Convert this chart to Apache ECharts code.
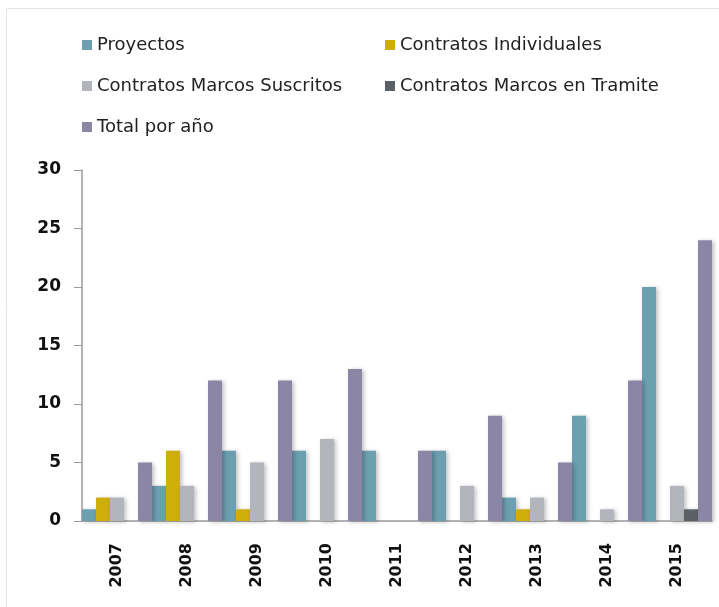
<!DOCTYPE html>
<html>
<head>
<meta charset="utf-8">
<script src="https://cdn.jsdelivr.net/npm/echarts@6/dist/echarts.min.js"></script>
<style>
  html, body { margin: 0; padding: 0; background: #fff; }
  #chart { width: 719px; height: 607px; }
</style>
</head>
<body>
<div id="chart"></div>
<script>
// datos
const years = ['2007', '2008', '2009', '2010', '2011', '2012', '2013', '2014', '2015']
const proyectos = [1, 3, 6, 6, 6, 6, 2, 9, 20]
const individuales = [2, 6, 1, 0, 0, 0, 1, 0, 0]
const suscritos = [2, 3, 5, 7, 0, 3, 2, 1, 3]
const tramite = [0, 0, 0, 0, 0, 0, 0, 0, 1]
const totalAnio = [5, 12, 12, 13, 6, 9, 5, 12, 24]

const names = ['Proyectos', 'Contratos Individuales', 'Contratos Marcos Suscritos', 'Contratos Marcos en Tramite', 'Total por año']
const colors = ['#6c9fb0', '#ceae08', '#b3b5bd', '#5b5f66', '#8b86a6']
const values = [proyectos, individuales, suscritos, tramite, totalAnio]

// posiciones de la leyenda (dos columnas)
const legendPos = [[82, 36], [385, 36], [82, 77], [385, 77], [82, 118]]

const chart = echarts.init(document.getElementById('chart'))

const option = {
  animation: false,
  backgroundColor: '#fff',
  graphic: [{
    type: 'rect',
    shape: { x: 6.5, y: 8.5, width: 740, height: 640 },
    style: { fill: 'none', stroke: '#e4e4e4', lineWidth: 1 },
    silent: true
  }],
  legend: names.map((n, i) => ({
    data: [n],
    left: legendPos[i][0],
    top: legendPos[i][1],
    padding: 0,
    icon: 'rect',
    itemWidth: 10,
    itemHeight: 10,
    itemGap: 5,
    textStyle: { fontFamily: 'DejaVu Sans', fontSize: 18, color: '#222' }
  })),
  grid: { left: 82, right: 7, top: 170, bottom: 86 },
  xAxis: {
    type: 'category',
    data: years,
    axisLine: { lineStyle: { color: '#9a9a9a', width: 1.5 } },
    axisTick: { show: false },
    axisLabel: {
      rotate: 90,
      margin: 22,
      fontFamily: 'DejaVu Sans',
      fontWeight: 'bold',
      fontSize: 16,
      color: '#111'
    }
  },
  yAxis: {
    type: 'value',
    min: 0,
    max: 30,
    interval: 5,
    axisLine: { show: true, lineStyle: { color: '#9a9a9a', width: 1.5 } },
    axisTick: { show: true, length: 8, lineStyle: { color: '#9a9a9a' } },
    splitLine: { show: false },
    axisLabel: {
      margin: 21,
      fontFamily: 'DejaVu Sans',
      fontWeight: 'bold',
      fontSize: 17,
      color: '#111'
    }
  },
  series: names.map((n, i) => ({
    name: n,
    type: 'bar',
    data: values[i],
    barGap: '0%',
    barCategoryGap: '0%',
    itemStyle: {
      color: colors[i],
      shadowBlur: 4,
      shadowOffsetX: 2,
      shadowOffsetY: 1,
      shadowColor: 'rgba(0,0,0,0.25)'
    }
  }))
}

chart.setOption(option)
</script>
</body>
</html>
